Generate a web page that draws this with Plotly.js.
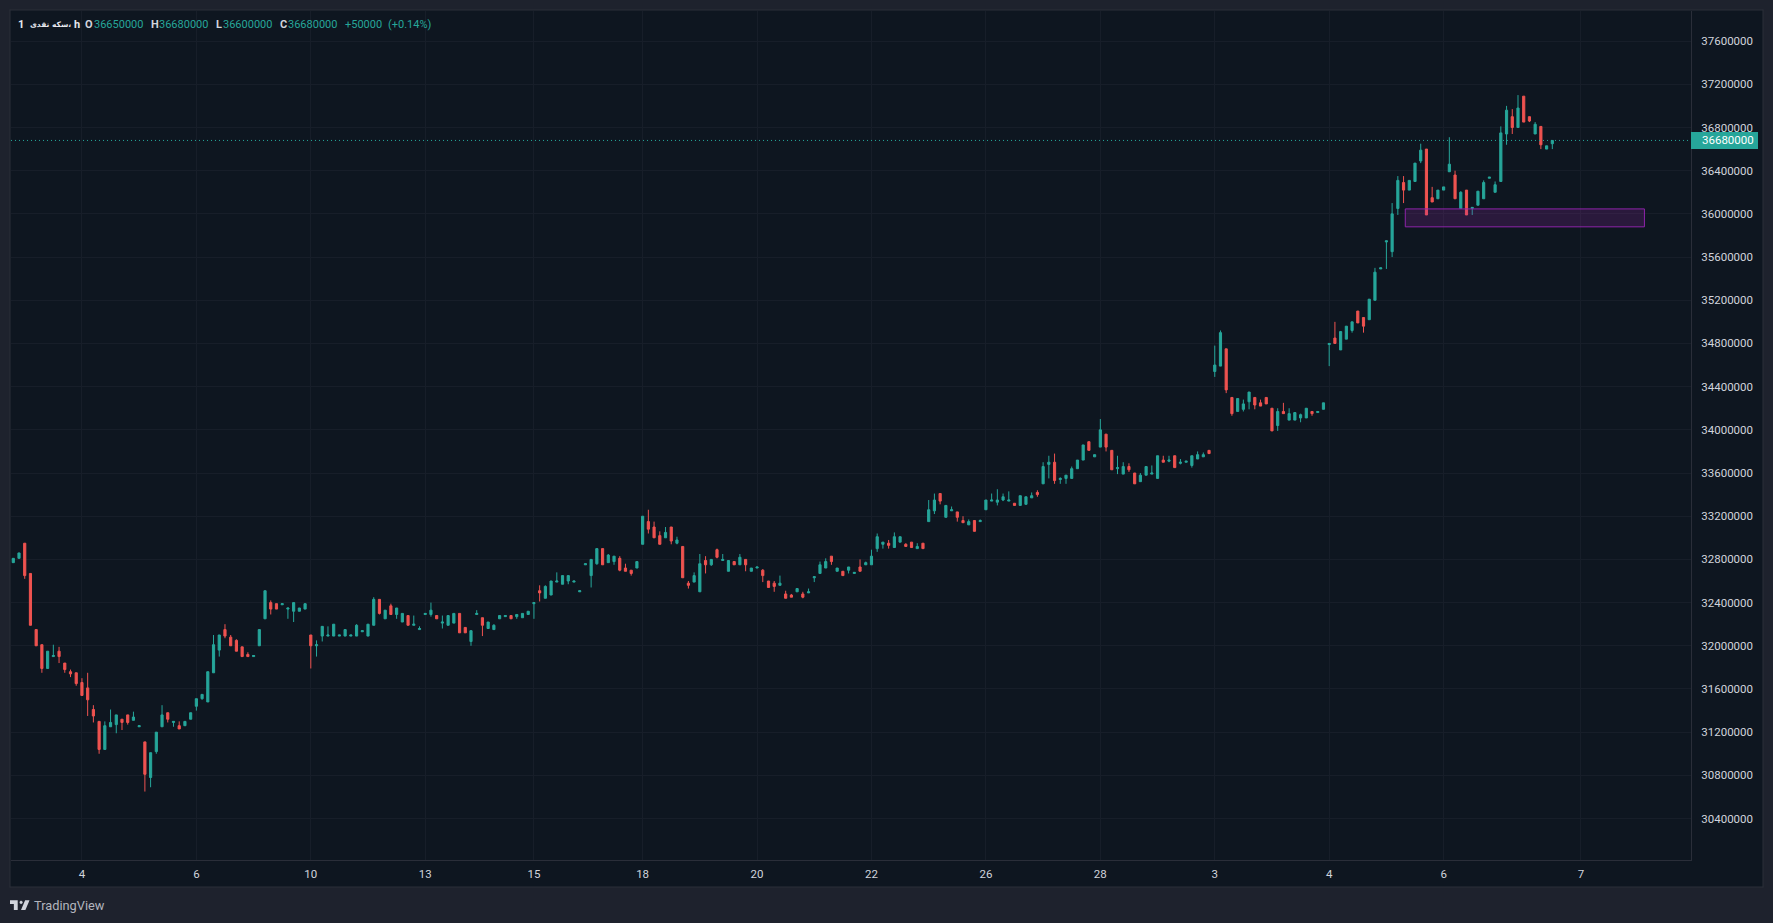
<!DOCTYPE html>
<html><head><meta charset="utf-8">
<script src="https://cdn.plot.ly/plotly-3.0.1.min.js"></script>
<style>html,body{margin:0;padding:0;background:#1e222d;overflow:hidden}#c{width:1773px;height:923px}</style>
</head><body><div id="c"></div>
<script>
// Prices are in units of 10,000
const opens=[
3277,3281,3295,3267,3215,3201,3179,3190,3195,3184,
3176,3175,3166,3161,3141,3130,3104,3125,3127,3132,
3136,3131,3125,3111,3078,3102,3125,3138,3129,3126,
3126,3132,3144,3151,3148,3175,3196,3215,3208,3205,
3199,3192,3190,3200,3225,3240,3239,3238,3234,3232,
3232,3234,3210,3200,3209,3209,3209,3209,3209,3209,
3209,3213,3209,3219,3243,3225,3237,3229,3222,3228,
3219,3215,3229,3229,3228,3221,3219,3221,3230,3217,
3204,3229,3226,3216,3215,3225,3227,3228,3227,3226,
3229,3239,3251,3244,3247,3259,3257,3260,3259,3250,
3275,3265,3276,3290,3277,3278,3281,3272,3270,3272,
3294,3315,3310,3302,3300,3310,3295,3292,3258,3259,
3250,3279,3275,3289,3279,3269,3278,3275,3280,3269,
3272,3270,3260,3258,3256,3248,3247,3250,3248,3249,
3263,3267,3272,3283,3269,3269,3270,3267,3273,3275,
3275,3290,3294,3295,3291,3296,3294,3296,3290,3295,
3315,3325,3341,3319,3325,3324,3316,3312,3316,3315,
3326,3334,3333,3335,3334,3332,3330,3331,3337,3342,
3350,3368,3370,3354,3355,3355,3364,3372,3389,3375,
3384,3396,3381,3364,3359,3366,3360,3352,3358,3359,
3355,3372,3371,3376,3369,3370,3367,3373,3375,3381,
3454,3459,3475,3430,3417,3419,3426,3430,3425,3430,
3420,3404,3417,3409,3409,3411,3411,3417,3416,3419,
3479,3485,3474,3484,3492,3510,3504,3502,3520,3549,
3574,3565,3605,3629,3622,3630,3649,3660,3615,3614,
3622,3639,3636,3605,3622,3605,3608,3614,3633,3620,
3630,3674,3690,3680,3709,3690,3674,3681,3660,3665];
const highs=[
3281,3286,3295,3267,3215,3201,3195,3201,3199,3184,
3178,3175,3170,3175,3145,3130,3130,3141,3136,3132,
3136,3139,3126,3111,3101,3120,3145,3138,3130,3130,
3130,3138,3151,3155,3176,3210,3210,3220,3210,3206,
3199,3194,3191,3215,3251,3242,3239,3239,3235,3240,
3235,3239,3210,3205,3218,3218,3220,3210,3215,3210,
3220,3214,3220,3245,3243,3233,3239,3235,3230,3228,
3228,3218,3230,3240,3228,3228,3228,3230,3230,3217,
3214,3233,3226,3222,3220,3228,3228,3228,3229,3230,
3232,3240,3256,3256,3260,3268,3265,3265,3260,3251,
3276,3280,3290,3290,3285,3283,3283,3276,3270,3278,
3320,3326,3315,3306,3310,3310,3301,3292,3260,3268,
3285,3283,3280,3290,3285,3279,3278,3285,3280,3272,
3273,3271,3260,3260,3265,3251,3248,3253,3250,3253,
3264,3278,3281,3283,3272,3269,3273,3268,3280,3278,
3289,3304,3296,3298,3305,3301,3295,3296,3295,3295,
3335,3341,3341,3330,3329,3324,3320,3317,3316,3317,
3335,3341,3345,3341,3343,3332,3339,3338,3342,3344,
3370,3376,3378,3356,3358,3366,3372,3386,3389,3377,
3410,3396,3381,3376,3370,3369,3360,3360,3366,3367,
3376,3376,3376,3376,3373,3371,3376,3380,3379,3381,
3478,3492,3475,3430,3429,3428,3435,3430,3428,3430,
3420,3420,3425,3420,3416,3415,3420,3417,3417,3425,
3480,3500,3491,3496,3500,3510,3504,3521,3550,3550,
3575,3610,3635,3635,3631,3647,3665,3660,3625,3622,
3625,3671,3640,3621,3622,3606,3621,3631,3634,3630,
3681,3700,3697,3710,3709,3690,3685,3681,3663,3668];
const lows=[
3277,3281,3262,3219,3200,3175,3179,3190,3184,3175,
3171,3163,3154,3135,3129,3100,3104,3125,3119,3122,
3127,3131,3125,3065,3069,3100,3125,3129,3125,3123,
3126,3132,3140,3150,3148,3175,3190,3207,3200,3195,
3190,3190,3190,3200,3225,3229,3234,3238,3225,3222,
3232,3234,3179,3190,3204,3209,3209,3209,3209,3209,
3209,3213,3209,3219,3229,3225,3229,3225,3222,3219,
3219,3215,3229,3227,3225,3216,3219,3221,3212,3212,
3200,3229,3209,3216,3215,3225,3227,3225,3225,3226,
3229,3225,3241,3244,3247,3259,3257,3257,3259,3250,
3275,3254,3275,3275,3277,3275,3269,3269,3265,3272,
3294,3304,3300,3294,3300,3294,3294,3263,3253,3259,
3250,3267,3274,3281,3279,3269,3275,3275,3269,3269,
3272,3259,3254,3250,3256,3244,3245,3250,3244,3249,
3259,3267,3272,3275,3269,3265,3267,3267,3269,3275,
3275,3287,3290,3290,3291,3296,3292,3291,3290,3290,
3315,3322,3331,3319,3325,3315,3314,3312,3306,3315,
3326,3334,3330,3334,3334,3330,3330,3331,3337,3338,
3350,3355,3350,3350,3350,3355,3364,3372,3381,3375,
3384,3380,3363,3359,3359,3361,3350,3352,3358,3359,
3355,3370,3370,3365,3368,3370,3365,3373,3375,3378,
3449,3459,3434,3413,3417,3417,3419,3419,3422,3424,
3399,3399,3415,3409,3409,3407,3411,3413,3416,3419,
3459,3480,3474,3484,3490,3499,3490,3502,3520,3549,
3549,3560,3599,3610,3622,3630,3647,3599,3611,3614,
3622,3639,3614,3605,3599,3599,3608,3614,3633,3620,
3630,3664,3674,3680,3685,3685,3674,3660,3660,3660];
const closes=[
3281,3286,3265,3219,3200,3179,3195,3191,3190,3178,
3174,3165,3154,3150,3135,3104,3126,3129,3136,3129,
3129,3134,3126,3081,3101,3120,3136,3132,3130,3123,
3130,3138,3151,3155,3176,3201,3210,3209,3200,3195,
3190,3190,3191,3215,3251,3234,3234,3239,3235,3240,
3235,3239,3200,3201,3218,3210,3220,3210,3215,3210,
3219,3214,3220,3243,3230,3233,3229,3235,3230,3219,
3220,3216,3230,3233,3225,3222,3228,3230,3212,3212,
3214,3230,3219,3222,3219,3228,3228,3225,3229,3230,
3232,3240,3249,3255,3260,3260,3265,3265,3260,3251,
3276,3280,3290,3275,3284,3283,3270,3269,3267,3278,
3320,3308,3300,3294,3305,3297,3298,3263,3256,3265,
3276,3275,3280,3282,3280,3279,3275,3282,3275,3272,
3273,3265,3254,3255,3258,3244,3245,3253,3245,3250,
3264,3275,3278,3278,3272,3265,3273,3268,3269,3277,
3283,3301,3296,3293,3301,3301,3292,3291,3292,3290,
3326,3335,3334,3330,3326,3319,3314,3315,3306,3316,
3335,3335,3335,3338,3335,3330,3339,3338,3339,3340,
3366,3370,3353,3355,3358,3364,3372,3386,3381,3377,
3400,3384,3363,3365,3366,3363,3350,3358,3366,3360,
3376,3370,3372,3365,3370,3371,3376,3377,3377,3378,
3460,3490,3437,3415,3429,3424,3435,3423,3422,3424,
3399,3417,3415,3415,3416,3414,3420,3415,3417,3425,
3480,3480,3491,3496,3500,3499,3496,3521,3546,3550,
3575,3600,3631,3622,3631,3647,3659,3599,3611,3622,
3625,3646,3614,3620,3599,3606,3621,3629,3634,3627,
3675,3696,3680,3698,3685,3686,3683,3664,3663,3668];
const priceTicks=[30400000,30800000,31200000,31600000,32000000,32400000,32800000,33200000,33600000,34000000,34400000,34800000,35200000,35600000,36000000,36400000,36800000,37200000,37600000];
const dateTickBars=[12,32,52,72,91,110,130,150,170,190,210,230,250,274];
const dateTickLabels=['4','6','10','13','15','18','20','22','26','28','3','4','6','7'];
const lastPrice=36680000;
const zoneBars=[243.3,285.1];
const zonePrices=[35880000,36046000];

const UP='#26a69a',DOWN='#ef5350',BG='#0e1620',OUTER='#1e222d',EDGE='#2a2e39',GRID='#171e29',TXT='#d1d4dc';
const L=11,T=11,R=1691,B=860,W=1773,H=923;
const FX=v=>(v-L)/(R-L), FY=v=>(B-v)/(B-T);
const scale=a=>a.map(v=>v*10000);
const bars=opens.map((_,i)=>i);
const FONT='Roboto, "DejaVu Sans", sans-serif';

const trace={type:'candlestick',x:bars,open:scale(opens),high:scale(highs),low:scale(lows),close:scale(closes),
  increasing:{line:{color:UP,width:1},fillcolor:UP},decreasing:{line:{color:DOWN,width:1},fillcolor:DOWN},
  whiskerwidth:0,hoverinfo:'skip',showlegend:false};

function rectPaper(x0,y0,x1,y1,fill,layer){return {type:'rect',xref:'paper',yref:'paper',x0:FX(x0),x1:FX(x1),y0:FY(y0),y1:FY(y1),fillcolor:fill,line:{width:0},layer:layer||'below'};}
function poly(pts){return 'M'+pts.map(p=>FX(10+p[0]*0.55)+' '+FY(898+p[1]*0.55)).join('L')+'Z';}
const shapes=[
  rectPaper(10,10,1763,887,BG),
  rectPaper(9.5,9.5,1763.5,10.5,EDGE,'above'),
  rectPaper(9.5,886.5,1763.5,887.5,EDGE,'above'),
  rectPaper(9.5,9.5,10.5,887.5,EDGE,'above'),
  rectPaper(1762.5,9.5,1763.5,887.5,EDGE,'above'),
  {type:'rect',xref:'x',yref:'y',x0:zoneBars[0],x1:zoneBars[1],y0:zonePrices[0],y1:zonePrices[1],fillcolor:'rgba(156,39,176,0.2)',line:{color:'#8e24aa',width:1},layer:'above'},
  {type:'line',xref:'paper',yref:'y',x0:0,x1:1,y0:lastPrice,y1:lastPrice,line:{color:UP,width:1,dash:'1px,3px'},layer:'above'},
  rectPaper(1691,132,1758,149,UP,'above'),
  {type:'path',xref:'paper',yref:'paper',fillcolor:TXT,line:{width:0},layer:'above',path:poly([[0,4],[14,4],[14,22],[7,22],[7,11],[0,11]])},
  {type:'path',xref:'paper',yref:'paper',fillcolor:TXT,line:{width:0},layer:'above',path:poly([[20,22],[27.5,4],[35.5,4],[28,22]])},
  {type:'path',xref:'paper',yref:'paper',fillcolor:TXT,line:{width:0},layer:'above',path:poly([[20,4.5],[23,7],[23,9],[20,11.5],[17.5,9],[17.5,7]])}
];
function label(px,py,text,color,opts){return Object.assign({xref:'paper',yref:'paper',x:FX(px),y:FY(py),xanchor:'left',yanchor:'middle',text:text,showarrow:false,borderpad:0,font:{family:FONT,size:11,color:color}},opts||{});}
const annotations=[
  label(17,24.5,'<b>1</b>','#e6e8ee',{font:{family:FONT,size:11,color:'#e6e8ee'}}),
  label(29,24.5,'<b>سکه نقدی،</b>','#e6e8ee',{font:{family:'"DejaVu Sans"',size:7.5,color:'#e6e8ee'}}),
  label(73,24.5,'<b>h</b>','#e6e8ee'),
  label(84,24.5,'<b>O</b>','#d1d4dc'),label(92.5,24.5,'36650000',UP),
  label(150,24.5,'<b>H</b>','#d1d4dc'),label(157.5,24.5,'36680000',UP),
  label(215,24.5,'<b>L</b>','#d1d4dc'),label(221.5,24.5,'36600000',UP),
  label(279,24.5,'<b>C</b>','#d1d4dc'),label(286.5,24.5,'36680000',UP),
  label(343.5,24.5,'+50000',UP),label(386.5,24.5,'(+0.14%)',UP),
  label(1701,140.5,'36680000','#ffffff',{font:{family:FONT,size:11.5,color:'#ffffff'}}),
  label(32.5,905.5,'TradingView','#b2b5be',{font:{family:FONT,size:12.8,color:'#b2b5be'}})
];
const layout={width:W,height:H,margin:{l:L,r:W-R,t:T,b:H-B,pad:0},paper_bgcolor:OUTER,plot_bgcolor:BG,showlegend:false,
  hovermode:false,dragmode:false,boxgap:0.46,font:{family:FONT,size:11,color:TXT},
  xaxis:{type:'linear',range:[-0.40,293.24],rangeslider:{visible:false},tickmode:'array',tickvals:dateTickBars,ticktext:dateTickLabels,
    showgrid:true,gridcolor:GRID,gridwidth:1,zeroline:false,showline:true,linecolor:EDGE,linewidth:1,ticks:'outside',ticklen:3,tickcolor:'rgba(0,0,0,0)',
    tickfont:{family:FONT,size:11.5,color:TXT},fixedrange:true},
  yaxis:{type:'linear',side:'right',range:[30016200,37878800],tickmode:'array',tickvals:priceTicks,ticktext:priceTicks.map(String),
    showgrid:true,gridcolor:GRID,gridwidth:1,zeroline:false,showline:true,linecolor:EDGE,linewidth:1,ticks:'outside',ticklen:7,tickcolor:'rgba(0,0,0,0)',
    tickfont:{family:FONT,size:11.5,color:TXT},fixedrange:true},
  shapes:shapes,annotations:annotations};
Plotly.newPlot('c',[trace],layout,{displayModeBar:false,staticPlot:true});
</script></body></html>
